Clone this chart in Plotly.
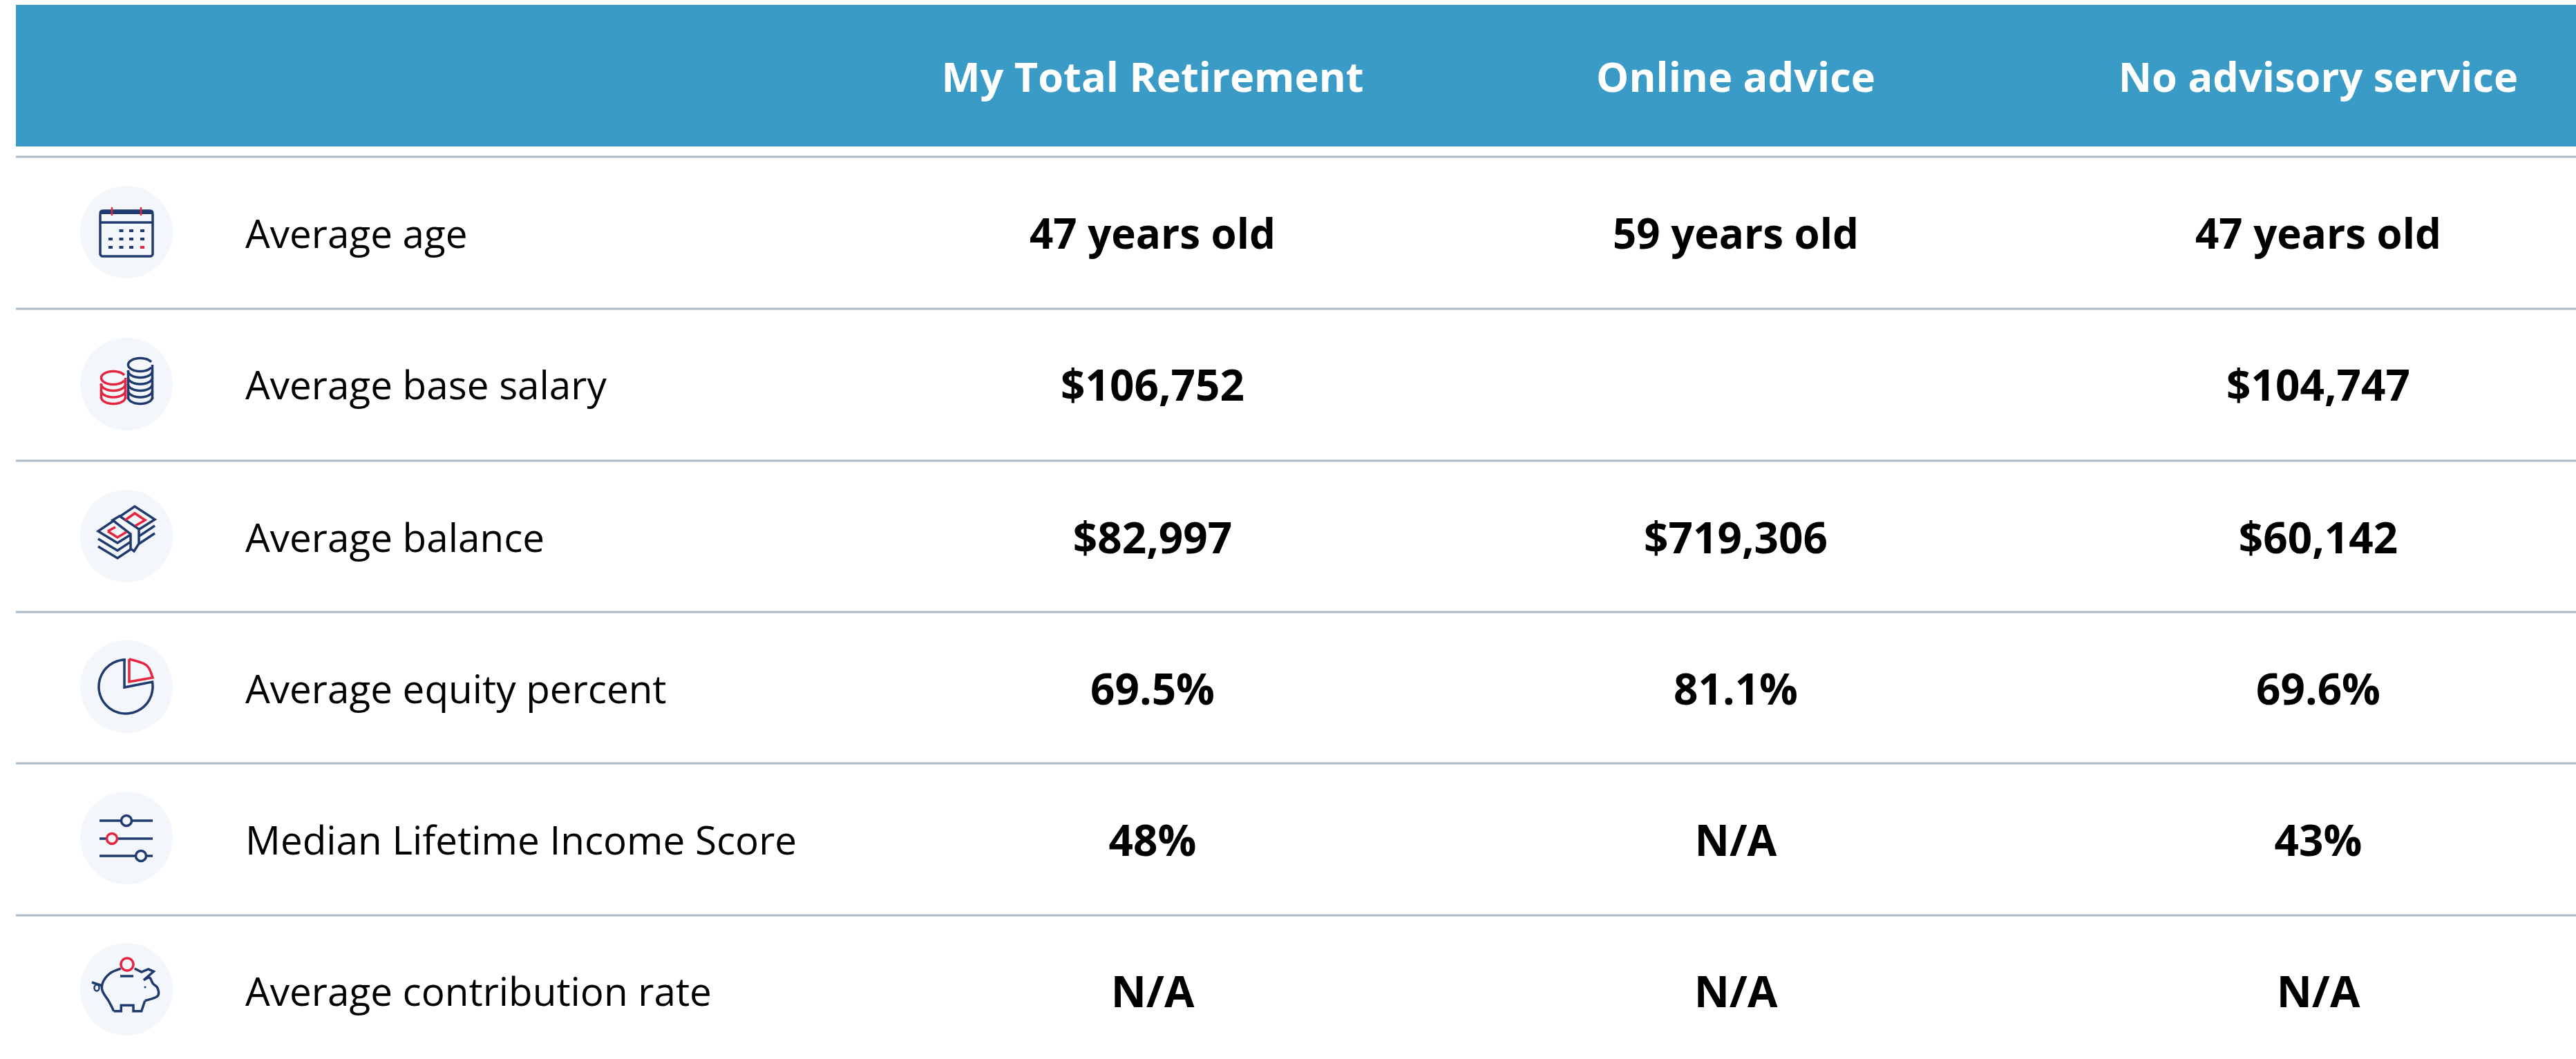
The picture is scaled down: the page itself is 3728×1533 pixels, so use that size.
import math
import plotly.graph_objects as go

# ---- data ----
columns = ["My Total Retirement", "Online advice", "No advisory service"]
row_labels = ["Average age", "Average base salary", "Average balance",
              "Average equity percent", "Median Lifetime Income Score", "Average contribution rate"]
my_total_retirement = ["47 years old", "$106,752", "$82,997", "69.5%", "48%", "N/A"]
online_advice = ["59 years old", "", "$719,306", "81.1%", "N/A", "N/A"]
no_advisory = ["47 years old", "$104,747", "$60,142", "69.6%", "43%", "N/A"]

# ---- layout constants (page pixels) ----
W, H = 3728, 1533
COL_X = [1668, 2512, 3355]
LABEL_X = 355
ROW_Y = [345, 564, 785, 1004, 1223, 1442]
HEAD_Y = 118
ICON_X = 183
ICON_Y = [336, 556, 776, 994, 1213, 1432]
RULE_Y = [227, 447, 667, 886, 1105, 1325]
ROW_FONT_SIZE = [60, 62, 62, 62, 62, 63]
NAVY, RED, RULE, DISC, HEAD = "#1F3A6E", "#E5253F", "#A9BAC6", "#F3F6FA", "#3A9CC6"
FONT = "Open Sans"

shapes = []

def line_path(pts, color=NAVY, w=3.5, close=False, fill=None):
    d = "M" + " L".join(f"{x:.1f},{y:.1f}" for x, y in pts) + (" Z" if close else "")
    s = dict(type="path", path=d, xref="x", yref="y", layer="above",
             line=dict(color=color, width=w))
    if fill:
        s["fillcolor"] = fill
    shapes.append(s)

def at(cx, cy, pts):
    return [(cx + x, cy + y) for x, y in pts]

def ell(cx, cy, rx, ry, a0=0, a1=360, n=48):
    return [(cx + rx * math.cos(math.radians(a0 + (a1 - a0) * i / n)),
             cy + ry * math.sin(math.radians(a0 + (a1 - a0) * i / n))) for i in range(n + 1)]

def smooth(pts, n=8):
    out = []
    P = [pts[0]] + pts + [pts[-1]]
    for i in range(1, len(P) - 2):
        p0, p1, p2, p3 = P[i - 1], P[i], P[i + 1], P[i + 2]
        for k in range(n):
            t = k / n
            out.append(tuple(0.5 * (2 * p1[j] + (p2[j] - p0[j]) * t + (2 * p0[j] - 5 * p1[j] + 4 * p2[j] - p3[j]) * t * t
                             + (3 * p1[j] - p0[j] - 3 * p2[j] + p3[j]) * t ** 3) for j in range(2)))
    out.append(pts[-1])
    return out

def circle(cx, cy, rx, ry, fill, color=None, w=0):
    shapes.append(dict(type="circle", xref="x", yref="y", x0=cx - rx, x1=cx + rx, y0=cy - ry, y1=cy + ry,
                       fillcolor=fill, layer="above",
                       line=dict(color=color or fill, width=w)))

def icon_calendar(cx, cy):
    x0, x1, y0, y1 = cx - 38, cx + 38, cy - 31, cy + 35
    line_path(smooth([(x0, y0 + 5), (x0 + 1, y0 + 1), (x0 + 5, y0)], 4) + smooth([(x1 - 5, y0), (x1 - 1, y0 + 1), (x1, y0 + 5)], 4)
              + smooth([(x1, y1 - 3), (x1 - 1, y1 - 1), (x1 - 3, y1)], 4) + smooth([(x0 + 3, y1), (x0 + 1, y1 - 1), (x0, y1 - 3)], 4),
              close=True)
    line_path([(x0, y0 + 3), (x1, y0 + 3)], w=4)
    line_path([(x0, cy - 14), (x1, cy - 14)])
    for dx in (-21, 21):
        line_path([(cx + dx, cy - 36), (cx + dx, cy - 24)], color=RED, w=2.5)
    xs = [-23, -7.5, 7, 23]
    for r, dy in enumerate((-2, 10, 22)):
        for c, dx in enumerate(xs):
            if r == 0 and c == 0:
                continue
            col = RED if (r == 2 and c == 3) else NAVY
            line_path([(cx + dx - 3, cy + dy), (cx + dx + 3, cy + dy)], color=col, w=4)

def coin_stack(cx, top, bottom, color):
    rx, ry = 17.5, 9.5
    line_path(ell(cx, top, rx, ry, 25, 335), color=color)
    y = top + 9
    while y < bottom:
        line_path(ell(cx, y, rx, ry, 0, 180), color=color)
        y += 9.5
    line_path([(cx - rx, top + 8), (cx - rx, bottom)], color=color)
    line_path([(cx + rx, top), (cx + rx, bottom)], color=color)

def icon_coins(cx, cy):
    coin_stack(cx - 19, cy - 9, cy + 21, RED)
    coin_stack(cx + 20, cy - 28, cy + 22, NAVY)

def icon_money(cx, cy):
    line_path(at(cx, cy, [(-41, -7), (12, -43), (41, -24), (-13, 10)]), close=True)
    line_path(at(cx, cy, [(-41, 4), (-13, 21), (41, -15)]))
    line_path(at(cx, cy, [(-41, 15), (-13, 32), (41, -4)]))
    line_path(at(cx, cy, [(-20, -23), (-10, -29), (18, -10), (18, 11), (11, 22), (6, 18), (6, -3)]),
              close=True, fill=DISC)
    line_path(at(cx, cy, [(-27, -7), (-13, 2), (0, -6)]), color=RED)
    line_path(at(cx, cy, [(-27, -7), (-16, -13)]), color=RED)
    line_path(at(cx, cy, [(-2, -23), (12, -33), (27, -23), (13, -15)]), color=RED)

def icon_pie(cx, cy):
    ox, oy = cx - 1, cy
    line_path([(ox - 2, oy - 39), (ox - 2, oy + 1), (ox + 38.5, oy - 7)] +
              [(ox + 39 * math.cos(math.radians(a)), oy + 39 * math.sin(math.radians(a)))
               for a in [-5 + (270 - (-5)) * i / 60 for i in range(61)]])
    line_path([(ox + 5, oy - 40), (ox + 5, oy - 7), (ox + 39, oy - 13)] +
              smooth([(ox + 39, oy - 13), (ox + 30, oy - 31), (ox + 5, oy - 40)], 6), color=RED)

def icon_sliders(cx, cy):
    for dy, kx, col in ((-25, 0, NAVY), (1, -21, RED), (26, 21, NAVY)):
        line_path([(cx - 39, cy + dy), (cx + 38, cy + dy)])
        circle(cx + kx, cy + dy, 7.5, 7.5, DISC, col, 3.5)

def icon_pig(cx, cy):
    def z(p):
        return [((x - 310) / 3, (y - 1055) / 3) for x, y in p]
    body = [(285, 965), (240, 985), (210, 1020), (205, 1060), (235, 1110), (255, 1150)]
    line_path(at(cx, cy, z(smooth(body))))
    line_path(at(cx, cy, z([(255, 1150), (287, 1150), (287, 1125), (340, 1125), (340, 1150), (375, 1150), (390, 1105)])))
    line_path(at(cx, cy, z(smooth([(390, 1105), (445, 1085), (445, 1050), (425, 1030), (410, 1005), (385, 1015)]))))
    line_path(at(cx, cy, z([(345, 965), (375, 980), (405, 968), (428, 978), (385, 1015)])))
    line_path(at(cx, cy, z([(160, 1025), (205, 1040)])))
    circle(cx - 43, cy - 2, 3.5, 4.5, DISC, NAVY, 2.5)
    line_path(at(cx, cy, z([(283, 998), (340, 998)])))
    circle(cx + 27, cy - 3, 1.5, 1.5, NAVY)
    circle(cx + 1, cy - 36, 9, 9, DISC, RED, 3.5)

# header band
shapes.append(dict(type="rect", xref="x", yref="y", x0=23, x1=W, y0=7, y1=212,
                   fillcolor=HEAD, line=dict(width=0), layer="below"))
# row rules
for y in RULE_Y:
    shapes.append(dict(type="line", xref="x", yref="y", x0=23, x1=W, y0=y, y1=y,
                       line=dict(color=RULE, width=3), layer="below"))
# icon discs
for y in ICON_Y:
    shapes.append(dict(type="circle", xref="x", yref="y", x0=ICON_X - 67, x1=ICON_X + 67, y0=y - 67, y1=y + 67,
                       fillcolor=DISC, line=dict(width=0), layer="below"))

for fn, y in zip([icon_calendar, icon_coins, icon_money, icon_pie, icon_sliders, icon_pig], ICON_Y):
    fn(ICON_X, y)

fig = go.Figure()
fig.add_trace(go.Scatter(x=COL_X, y=[HEAD_Y] * 3, text=columns, mode="text", textposition="middle center",
                         textfont=dict(family=FONT, size=59.5, color="white", weight="bold"), hoverinfo="skip"))
fig.add_trace(go.Scatter(x=[LABEL_X] * 6, y=ROW_Y, text=row_labels, mode="text", textposition="middle right",
                         textfont=dict(family=FONT, size=56.6, color="black"), hoverinfo="skip"))
for xc, vals in zip(COL_X, [my_total_retirement, online_advice, no_advisory]):
    fig.add_trace(go.Scatter(x=[xc] * 6, y=ROW_Y, text=vals, mode="text", textposition="middle center",
                             textfont=dict(family=FONT, size=ROW_FONT_SIZE, color="black", weight="bold"), hoverinfo="skip"))

fig.update_layout(width=W, height=H, margin=dict(l=0, r=0, t=0, b=0), showlegend=False,
                  paper_bgcolor="white", plot_bgcolor="white", shapes=shapes,
                  xaxis=dict(range=[0, W], visible=False, fixedrange=True),
                  yaxis=dict(range=[H, 0], visible=False, fixedrange=True))
fig.write_html("out.html", config=dict(displayModeBar=False),
               post_script="document.body.style.margin='0';document.documentElement.style.overflow='hidden';")
